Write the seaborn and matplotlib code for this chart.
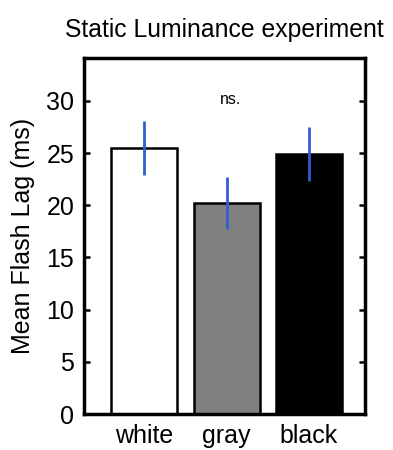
import matplotlib
matplotlib.use("Agg")
import matplotlib.pyplot as plt
import seaborn as sns
import pandas as pd

categories = ["white", "gray", "black"]
means = [25.5, 20.2, 24.9]
errors = [2.6, 2.5, 2.6]
bar_colors = ["#ffffff", "#808080", "#000000"]
yticks = [0, 5, 10, 15, 20, 25, 30]

sns.set_style("white")
plt.rcParams["font.family"] = ["Liberation Sans", "DejaVu Sans"]
plt.rcParams["text.color"] = "black"
plt.rcParams["axes.labelcolor"] = "black"
plt.rcParams["xtick.color"] = "black"
plt.rcParams["ytick.color"] = "black"

df = pd.DataFrame({"cond": categories, "lag": means})

fig = plt.figure(figsize=(3.93, 4.5), dpi=100)
ax = fig.add_axes([84/393, 1-414/450, (365-84)/393, (414-58)/450])

sns.barplot(data=df, x="cond", y="lag", hue="cond", palette=bar_colors,
            order=categories, hue_order=categories, legend=False,
            width=0.8, edgecolor="black", linewidth=1.8, ax=ax, errorbar=None)

ax.errorbar(range(len(categories)), means, yerr=errors, fmt="none",
            ecolor="#3060cc", elinewidth=2, capsize=0, zorder=5)

ax.set_xlim(-0.73, 2.68)
ax.set_ylim(0, 34.1)
ax.set_yticks(yticks)
ax.tick_params(axis="y", direction="in", length=4, width=1.8, labelsize=18,
               right=True, left=True, pad=7)
ax.tick_params(axis="x", length=0, labelsize=18, pad=7)
for s in ax.spines.values():
    s.set_linewidth(2.5)
    s.set_color("black")
ax.set_xlabel("")
ax.set_ylabel("Mean Flash Lag (ms)", fontsize=18, labelpad=8)
ax.set_title("Static Luminance experiment", fontsize=17.8, pad=15)
ax.text(1.05, 30.1, "ns.", ha="center", va="center", fontsize=11.5)

fig.savefig("out.png", dpi=100)
